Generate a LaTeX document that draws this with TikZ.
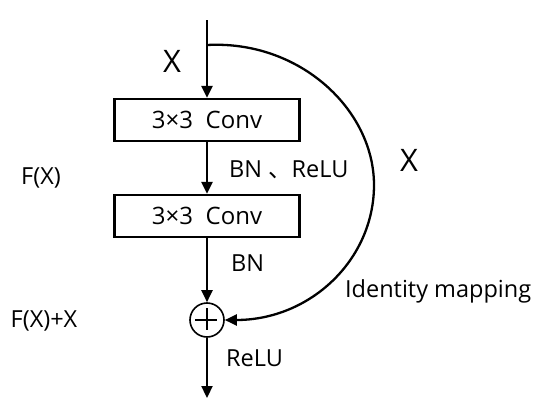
\documentclass[tikz,border=0pt]{standalone}
\usepackage{fontspec}
\setmainfont{Open Sans}
\newfontfamily\cjk{Noto Sans CJK SC}
\usetikzlibrary{arrows.meta}
\begin{document}
\begin{tikzpicture}[x=1pt,y=-1pt,
  line width=2.3pt,
  arr/.style={-{Triangle[length=12pt,width=11pt]}},
  convbox/.style={draw, minimum width=185pt, minimum height=42pt, inner sep=0pt, font=\fontsize{24}{26}\selectfont},
  lbl/.style={font=\fontsize{23.5}{26}\selectfont, inner sep=0pt},
  biglbl/.style={font=\fontsize{31}{33}\selectfont, inner sep=0pt}]
\useasboundingbox (0,0) rectangle (550,407);
\coordinate (top) at (207,20);
\coordinate (split) at (207,45);
\coordinate (bot) at (207,398);
\node[convbox] (c1) at (207,120) {3×3\ \ Conv};
\node[convbox] (c2) at (207,216) {3×3\ \ Conv};
\node[draw, circle, minimum size=34pt, inner sep=0pt, line width=1.6pt] (add) at (207,320) {};
\draw[line width=1.6pt] (add.north) ++(0,6) -- ++(0,22);
\draw[line width=1.6pt] (add.west) ++(6,0) -- ++(22,0);
\draw[arr] (top) -- (c1.north);
\draw[arr] (c1.south) -- (c2.north);
\draw[arr] (c2.south) -- (add.north);
\draw[arr] (add.south) -- (bot);
\draw[arr] (split) .. controls (300,40) and (374,110) .. (374,185)
  .. controls (374,260) and (310,320) .. (add.east);
\node[biglbl] (x1) at (172,61) {X};
\node[biglbl] (x2) at (409,160) {X};
\node[lbl, anchor=west] (l1) at (228,170) {BN\ {\cjk 、}ReLU};
\node[lbl, anchor=west] (l2) at (230,263) {BN};
\node[lbl, anchor=west] (l3) at (344,291) {Identity mapping};
\node[lbl, anchor=west] (l4) at (225,358) {ReLU};
\node[lbl] (f1) at (41,178) {F(X)};
\node[lbl] (f2) at (44,321) {F(X)+X};
\end{tikzpicture}
\end{document}
